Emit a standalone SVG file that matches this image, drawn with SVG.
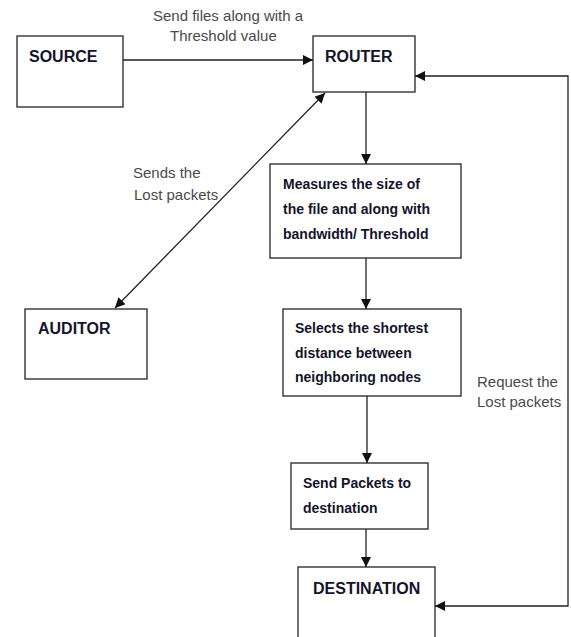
<svg xmlns="http://www.w3.org/2000/svg" width="571" height="637" viewBox="0 0 571 637">
<defs>
<marker id="ah" viewBox="0 0 10 10" refX="10" refY="5" markerWidth="10" markerHeight="10" markerUnits="userSpaceOnUse" orient="auto-start-reverse">
<path d="M0,0 L10,5 L0,10 z" fill="#111"/>
</marker>
<style>
.box{fill:#fff;stroke:#333;stroke-width:1.4}
.title{font-family:"Liberation Sans",Arial,sans-serif;font-weight:bold;font-size:16px;fill:#14142a}
.body{font-family:"Liberation Sans",Arial,sans-serif;font-weight:bold;font-size:14px;fill:#14142a}
.lbl{font-family:"Liberation Sans",Arial,sans-serif;font-size:15px;fill:#4a4a4a}
.ln{fill:none;stroke:#222;stroke-width:1.3}
</style>
</defs>
<rect width="571" height="637" fill="#fff"/>
<g id="source"><rect class="box" x="17" y="36" width="106" height="71"/><text class="title" x="29" y="62">SOURCE</text></g>
<g id="router"><rect class="box" x="313" y="36" width="102" height="56"/><text class="title" x="325" y="62">ROUTER</text></g>
<g id="measure"><rect class="box" x="270" y="164" width="191" height="94"/>
<text class="body" x="283" y="189">Measures the size of</text>
<text class="body" x="283" y="214">the file and along with</text>
<text class="body" x="283" y="239">bandwidth/  Threshold</text></g>
<g id="selects"><rect class="box" x="283" y="309" width="178" height="87"/>
<text class="body" x="295" y="333">Selects the shortest</text>
<text class="body" x="295" y="358">distance between</text>
<text class="body" x="295" y="382">neighboring  nodes</text></g>
<g id="sendpackets"><rect class="box" x="291" y="463" width="137" height="66"/>
<text class="body" x="303" y="488">Send Packets to</text>
<text class="body" x="303" y="513">destination</text></g>
<g id="destination"><rect class="box" x="298" y="567" width="137" height="80"/><text class="title" x="313" y="594">DESTINATION</text></g>
<g id="auditor"><rect class="box" x="25" y="309" width="122" height="70"/><text class="title" x="38" y="334">AUDITOR</text></g>
<g id="connectors">
<line class="ln" x1="123" y1="60" x2="313" y2="60" marker-end="url(#ah)"/>
<line class="ln" x1="115" y1="308" x2="325" y2="93" marker-start="url(#ah)" marker-end="url(#ah)"/>
<line class="ln" x1="366" y1="92" x2="366" y2="164" marker-end="url(#ah)"/>
<line class="ln" x1="366" y1="258" x2="366" y2="309" marker-end="url(#ah)"/>
<line class="ln" x1="367" y1="396" x2="367" y2="463" marker-end="url(#ah)"/>
<line class="ln" x1="366" y1="529" x2="366" y2="567" marker-end="url(#ah)"/>
<polyline class="ln" points="435,606 568,606 568,76 415,76" marker-start="url(#ah)" marker-end="url(#ah)"/>
<text class="lbl" x="153" y="21">Send files along with a</text>
<text class="lbl" x="170" y="41">Threshold value</text>
<text class="lbl" x="133" y="178">Sends the</text>
<text class="lbl" x="134" y="200">Lost packets</text>
<text class="lbl" x="477" y="387">Request the</text>
<text class="lbl" x="477" y="407">Lost packets</text>
</g>
</svg>
